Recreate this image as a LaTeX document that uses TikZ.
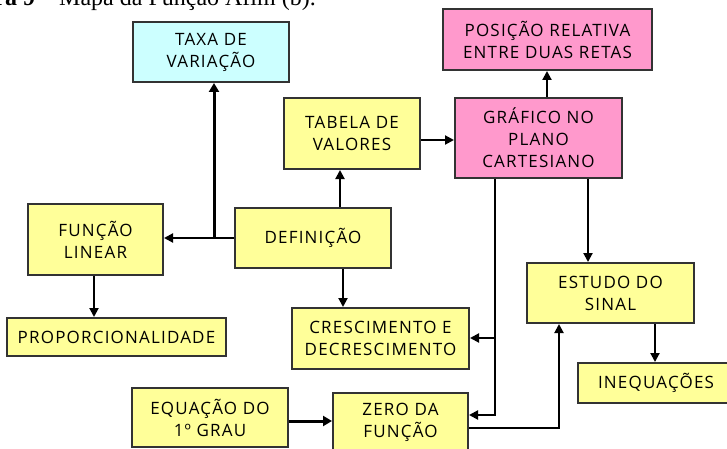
\documentclass[tikz,border=0pt]{standalone}
\usepackage{fontspec}
\setmainfont{Liberation Serif}
\newfontfamily\boxfont[LetterSpace=7]{Open Sans}
\usetikzlibrary{arrows.meta}
\definecolor{boxyellow}{HTML}{FFFF99}
\definecolor{boxcyan}{HTML}{CCFFFF}
\definecolor{boxpink}{HTML}{FF99CC}
\definecolor{boxline}{HTML}{333333}
\tikzset{
  box/.style={draw=boxline, line width=2pt, fill=boxyellow, align=center, inner sep=0pt,
    font=\boxfont\fontsize{17}{22}\selectfont},
  conn/.style={line width=2pt, -{Triangle[length=9pt,width=9pt]}},
  thickconn/.style={line width=3pt, -{Triangle[length=9pt,width=10pt]}},
}
\begin{document}
\begin{tikzpicture}[x=1pt,y=-1pt]
\useasboundingbox (0,0) rectangle (727,449);
\begin{scope}
\clip (0,0) rectangle (727,449);
% caption (cut at the top)
\node[anchor=base east, inner sep=0pt, font=\fontsize{24}{24}\selectfont] (cap) at (316,6)
  {\textbf{Figura 9} -- Mapa da Função Afim (b).};
% boxes
\node[box, fill=boxcyan, minimum width=156, minimum height=60] (taxa) at (211,52) {TAXA DE\\VARIAÇÃO};
\node[box, fill=boxpink, minimum width=209, minimum height=61] (pos) at (547.5,39.5) {POSIÇÃO RELATIVA\\ENTRE DUAS RETAS};
\node[box, fill=boxpink, minimum width=167, minimum height=80] (graf) at (538.5,138) {GRÁFICO NO\\PLANO\\CARTESIANO};
\node[box, minimum width=136, minimum height=71] (tab) at (352,133.5) {TABELA DE\\VALORES};
\node[box, minimum width=135, minimum height=71] (flin) at (95.5,239.5) {FUNÇÃO\\LINEAR};
\node[box, minimum width=156, minimum height=60] (def) at (313,238) {DEFINIÇÃO};
\node[box, minimum width=219, minimum height=38] (prop) at (116.5,337) {PROPORCIONALIDADE};
\node[box, minimum width=177, minimum height=61] (cresc) at (380.5,338.5) {CRESCIMENTO E\\DECRESCIMENTO};
\node[box, minimum width=167, minimum height=60] (est) at (610.5,293) {ESTUDO DO\\SINAL};
\node[box, minimum width=156, minimum height=40] (ineq) at (656,383) {INEQUAÇÕES};
\node[box, minimum width=156, minimum height=59] (equ) at (210,417.5) {EQUAÇÃO DO\\1º GRAU};
\node[box, minimum width=135, minimum height=59] (zero) at (400.5,422.5) {ZERO DA\\FUNÇÃO};
% helper coordinates
\coordinate (xa) at (214,0);
\coordinate (xb) at (340,0);
\coordinate (xc) at (343,0);
\coordinate (xd) at (495,0);
\coordinate (xe) at (588,0);
\coordinate (xf) at (547,0);
\coordinate (xg) at (559,0);
\coordinate (xh) at (655,0);
\coordinate (xi) at (94,0);
\coordinate (ya) at (0,238);
\coordinate (yb) at (0,140);
\coordinate (yc) at (0,338);
\coordinate (yd) at (0,415);
\coordinate (ye) at (0,428);
\coordinate (yf) at (0,421);
% connectors
\draw[conn] (def.west |- ya) -- (flin.east |- ya);
\draw[thickconn] (xa |- ya) -- (taxa.south -| xa);
\draw[conn] (def.north -| xb) -- (tab.south -| xb);
\draw[conn] (def.south -| xc) -- (cresc.north -| xc);
\draw[conn] (flin.south -| xi) -- (prop.north -| xi);
\draw[conn] (tab.east |- yb) -- (graf.west |- yb);
\draw[conn] (graf.north -| xf) -- (pos.south -| xf);
\draw[conn] (graf.south -| xe) -- (est.north -| xe);
\draw[conn] (graf.south -| xd) -- (xd |- yd) -- (zero.east |- yd);
\draw[conn] (xd |- yc) -- (cresc.east |- yc);
\draw[conn] (zero.east |- ye) -- (xg |- ye) -- (est.south -| xg);
\draw[thickconn] (equ.east |- yf) -- (zero.west |- yf);
\draw[conn] (est.south -| xh) -- (ineq.north -| xh);
\end{scope}
\end{tikzpicture}
\end{document}
